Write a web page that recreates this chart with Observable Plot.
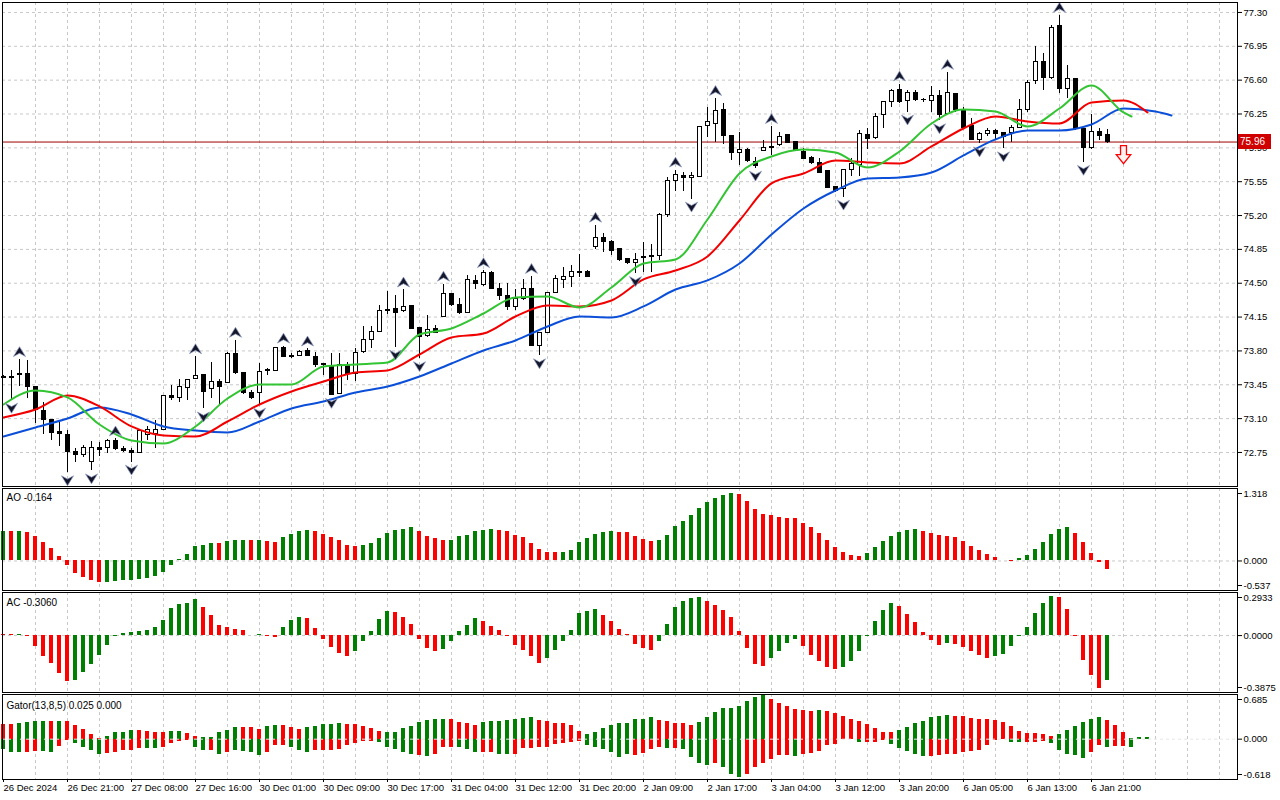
<!DOCTYPE html>
<html>
<head>
<meta charset="utf-8">
<script src="https://cdn.jsdelivr.net/npm/d3@7"></script>
<script src="https://cdn.jsdelivr.net/npm/@observablehq/plot@0.6"></script>
<style>
html,body{margin:0;padding:0;background:#fff;}
#wrap{position:relative;width:1280px;height:800px;overflow:hidden;background:#fff;}
#wrap svg{position:absolute;left:0;}
#price{position:absolute;background:#d00000;color:#fff;font:10px "Liberation Sans",Arial,sans-serif;line-height:15px;height:15px;width:30px;padding:0 1px 0 2px;}
</style>
</head>
<body>
<div id="wrap"></div>
<script>
// ---------- price data (hourly candles, bar index 0..138) ----------
const open = [73.53,73.52,73.55,73.56,73.43,73.18,73.09,72.96,72.93,72.75,
72.72,72.65,72.80,72.80,72.87,72.79,72.76,72.74,72.93,72.94,
72.98,73.33,73.31,73.42,73.51,73.55,73.41,73.48,73.47,73.77,
73.57,73.37,73.36,73.59,73.59,73.83,73.75,73.75,73.80,73.74,
73.66,73.63,73.35,73.65,73.56,73.79,73.91,74.00,74.21,74.23,
74.21,74.26,74.04,73.95,74.03,74.15,74.39,74.28,74.19,74.52,
74.48,74.61,74.44,74.37,74.25,74.34,74.44,73.85,73.99,74.40,
74.53,74.56,74.62,74.62,74.87,74.97,74.93,74.85,74.75,74.71,
74.77,74.77,74.78,75.21,75.56,75.61,75.59,75.60,76.13,76.15,
76.29,76.02,75.85,75.88,75.75,75.87,75.91,75.93,76.03,75.96,
75.86,75.79,75.74,75.66,75.49,75.47,75.67,75.72,76.03,76.00,
76.24,76.37,76.50,76.38,76.47,76.39,76.38,76.44,76.25,76.46,
76.29,76.13,75.98,76.04,76.07,76.05,76.05,76.11,76.29,76.59,
76.79,76.62,77.16,76.51,76.61,76.10,75.90,76.06,76.03];
const high = [73.55,73.60,73.71,73.70,73.43,73.27,73.09,73.08,72.98,72.79,
72.82,72.86,72.85,72.88,72.89,72.81,72.79,72.97,73.02,73.08,
73.34,73.44,73.50,73.50,73.74,73.55,73.68,73.50,73.78,73.91,
73.57,73.39,73.67,73.62,73.84,73.85,73.77,73.80,73.82,73.78,
73.67,73.77,73.77,73.68,73.82,74.05,74.05,74.27,74.41,74.37,
74.43,74.26,74.04,74.17,74.06,74.49,74.39,74.34,74.58,74.58,
74.63,74.62,74.50,74.50,74.44,74.54,74.57,73.99,74.40,74.58,
74.66,74.68,74.80,74.63,75.10,75.01,74.94,74.85,74.75,74.81,
74.92,74.90,75.22,75.59,75.67,75.65,75.65,76.12,76.32,76.41,
76.36,76.02,76.06,75.89,75.80,75.98,76.12,76.06,76.04,75.96,
75.89,75.81,75.79,75.66,75.49,75.67,75.79,76.08,76.10,76.25,
76.37,76.50,76.56,76.49,76.49,76.41,76.53,76.49,76.68,76.46,
76.32,76.20,76.06,76.10,76.09,76.05,76.13,76.40,76.60,76.95,
76.88,77.17,77.27,76.75,76.61,76.10,76.24,76.10,76.09];
const low = [73.51,73.29,73.43,73.31,73.05,72.94,72.87,72.81,72.54,72.65,
72.70,72.56,72.71,72.74,72.77,72.75,72.65,72.74,72.87,72.79,
72.98,73.29,73.27,73.29,73.50,73.20,73.31,73.25,73.46,73.56,
73.35,73.30,73.24,73.55,73.59,73.73,73.72,73.74,73.74,73.63,
73.55,73.34,73.35,73.49,73.48,73.77,73.82,74.00,74.18,73.84,
74.20,74.02,73.72,73.94,73.98,74.15,74.26,74.18,74.19,74.44,
74.47,74.43,74.32,74.22,74.22,74.32,73.85,73.75,73.99,74.39,
74.45,74.46,74.56,74.56,74.85,74.82,74.79,74.72,74.69,74.60,
74.61,74.61,74.74,75.18,75.45,75.45,75.37,75.60,76.01,75.96,
75.93,75.77,75.72,75.75,75.69,75.87,75.82,75.91,75.94,75.87,
75.78,75.73,75.63,75.48,75.44,75.39,75.60,75.60,75.88,75.99,
76.10,76.32,76.36,76.27,76.38,76.37,76.27,76.18,76.24,76.27,
76.11,75.98,75.94,76.02,75.98,75.89,75.96,76.10,76.27,76.56,
76.49,76.61,76.46,76.41,76.08,75.75,75.88,75.98,75.94];
const close = [73.52,73.53,73.56,73.43,73.19,73.09,72.95,72.94,72.75,72.72,
72.80,72.80,72.78,72.87,72.79,72.77,72.74,72.97,72.98,72.98,
73.33,73.31,73.43,73.50,73.54,73.38,73.48,73.43,73.77,73.57,
73.36,73.31,73.58,73.60,73.83,73.74,73.74,73.79,73.75,73.65,
73.65,73.34,73.65,73.56,73.78,73.91,74.00,74.21,74.22,74.19,
74.25,74.03,73.94,74.02,73.99,74.39,74.28,74.19,74.53,74.49,
74.61,74.44,74.37,74.25,74.34,74.44,73.85,73.99,74.40,74.54,
74.56,74.62,74.61,74.56,74.97,74.93,74.83,74.74,74.71,74.74,
74.76,74.78,75.21,75.56,75.62,75.59,75.61,76.12,76.17,76.28,
76.02,75.85,75.88,75.76,75.71,75.90,75.90,76.01,75.95,75.87,
75.78,75.74,75.64,75.48,75.45,75.67,75.73,76.04,75.99,76.22,
76.37,76.49,76.37,76.47,76.39,76.392,76.44,76.24,76.47,76.29,
76.11,75.98,76.04,76.07,76.04,76.01,76.11,76.29,76.57,76.79,
76.62,77.14,76.51,76.61,76.09,75.90,76.06,76.02,75.96];

// fractals (bar indices)
const fractalUp = [2,14,24,29,35,38,50,55,60,66,74,84,89,96,112,118,132];
const fractalDown = [1,8,11,16,25,32,41,49,52,67,79,86,94,105,113,117,122,125,135];
// sell signal arrow
const signals = [{bar:140, price:75.83}];

// Alligator (sampled every 4 bars)
const jawBars = [0,4,8,12,16,20,24,28,32,36,40,44,48,52,56,60,64,68,72,76,80,84,88,92,96,100,104,108,112,116,120,124,128,132,136,140,144,146];
const jaw = [72.915,73.008,73.101,73.215,73.143,73.019,72.977,72.957,73.070,73.205,73.277,73.370,73.432,73.536,73.670,73.805,73.908,74.053,74.156,74.146,74.260,74.435,74.529,74.704,75.004,75.273,75.459,75.583,75.594,75.645,75.821,75.987,76.080,76.080,76.142,76.307,76.276,76.235];
const teethBars = [0,4,8,12,16,20,24,28,32,36,40,44,48,52,56,60,64,68,72,76,80,84,88,92,96,100,104,108,112,116,120,124,128,132,136,140,143];
const teeth = [73.112,73.194,73.339,73.226,73.019,72.926,72.915,73.070,73.246,73.381,73.484,73.577,73.598,73.763,73.939,73.980,74.156,74.270,74.260,74.322,74.539,74.632,74.777,75.149,75.532,75.635,75.769,75.749,75.738,75.914,76.100,76.224,76.173,76.152,76.369,76.390,76.266];
const lipsBars = [0,4,8,12,16,20,24,28,32,36,40,44,48,52,56,60,64,68,72,76,80,84,88,92,96,100,104,108,112,116,120,124,128,132,136,140,141];
const lips = [73.246,73.391,73.319,73.039,72.874,72.843,73.019,73.308,73.453,73.453,73.639,73.660,73.680,73.970,74.032,74.187,74.353,74.363,74.249,74.456,74.704,74.746,75.159,75.635,75.811,75.883,75.852,75.697,75.862,76.152,76.297,76.276,76.121,76.307,76.545,76.266,76.224];

// Awesome Oscillator
const aoValues = [0.54,0.53,0.535,0.51,0.44,0.33,0.23,0.08,-0.09,-0.22,
-0.30,-0.36,-0.40,-0.395,-0.37,-0.36,-0.35,-0.33,-0.32,-0.29,
-0.21,-0.08,0.02,0.12,0.26,0.29,0.32,0.315,0.35,0.365,
0.37,0.365,0.37,0.35,0.33,0.42,0.48,0.53,0.56,0.545,
0.48,0.42,0.37,0.29,0.26,0.275,0.32,0.40,0.50,0.56,
0.58,0.60,0.53,0.45,0.40,0.37,0.375,0.44,0.46,0.54,
0.56,0.565,0.56,0.545,0.46,0.42,0.32,0.21,0.15,0.148,
0.152,0.19,0.34,0.40,0.48,0.51,0.54,0.52,0.515,0.45,
0.385,0.35,0.365,0.46,0.62,0.72,0.83,0.96,1.06,1.13,
1.19,1.23,1.20,1.08,0.94,0.85,0.83,0.79,0.78,0.775,
0.69,0.60,0.50,0.37,0.25,0.15,0.10,0.08,0.13,0.24,
0.35,0.45,0.51,0.56,0.565,0.545,0.50,0.46,0.45,0.42,
0.35,0.27,0.19,0.115,0.065,0.006,-0.006,0.04,0.10,0.21,
0.33,0.48,0.58,0.60,0.50,0.33,0.13,-0.03,-0.164];
const aoColors = "grgrrrrrrr"+"rrrggggggg"+"gggggggrgg"+"grgrrggggr"+"rrrrrggggg"+"ggrrrrgggg"+"ggrrrrrrrr"+"gggggggrrr"+"rrgggggggg"+"ggrrrrrrrr"+"rrrrrrrrgg"+"gggggrrrrr"+"rrrrrrrggg"+"ggggrrrrr";

// Accelerator Oscillator
const acValues = [0.004,0.006,0.010,-0.003,-0.076,-0.144,-0.189,-0.260,-0.311,-0.303,
-0.253,-0.197,-0.136,-0.068,-0.008,0.016,0.024,0.030,0.033,0.053,
0.104,0.182,0.213,0.220,0.243,0.190,0.137,0.066,0.053,0.040,
0.033,0.002,0.005,-0.005,-0.013,0.053,0.101,0.122,0.114,0.046,
-0.025,-0.081,-0.119,-0.144,-0.111,-0.043,0.030,0.109,0.162,0.154,
0.122,0.076,-0.030,-0.089,-0.111,-0.094,-0.043,0.025,0.066,0.114,
0.094,0.063,0.033,-0.005,-0.066,-0.099,-0.144,-0.187,-0.157,-0.099,
-0.043,0.033,0.152,0.165,0.177,0.139,0.094,0.040,0.008,-0.063,
-0.089,-0.099,-0.043,0.076,0.190,0.235,0.253,0.261,0.235,0.205,
0.174,0.121,0.030,-0.088,-0.194,-0.210,-0.157,-0.106,-0.056,-0.028,
-0.073,-0.134,-0.174,-0.217,-0.232,-0.217,-0.179,-0.111,-0.005,0.098,
0.174,0.220,0.197,0.144,0.091,0.023,-0.035,-0.066,-0.051,-0.058,
-0.081,-0.111,-0.134,-0.157,-0.141,-0.126,-0.073,-0.003,0.058,0.152,
0.220,0.268,0.262,0.177,-0.005,-0.170,-0.270,-0.360,-0.306];
const acColors = "rrgrrrrrrg"+"gggggggggg"+"gggggrrrrr"+"rrgrrgggrr"+"rrrrgggggr"+"rrrrrggggg"+"rrrrrrrrgg"+"gggggrrrrr"+"rrggggggrr"+"rrrrrrgggg"+"rrrrrggggg"+"ggrrrrrrgr"+"rrrrgggggg"+"ggrrrrrrg";

// Gator Oscillator
const gatorUp = [0.223,0.223,0.241,0.253,0.271,0.271,0.271,0.271,0.271,0.211,
0.145,0.072,0.012,0.036,0.096,0.102,0.127,0.127,0.120,0.102,
0.102,0.114,0.114,0.084,0.042,0.024,0.030,0.102,0.127,0.175,
0.173,0.172,0.150,0.193,0.211,0.209,0.175,0.145,0.175,0.199,
0.223,0.224,0.235,0.223,0.222,0.193,0.163,0.120,0.102,0.103,
0.163,0.193,0.259,0.283,0.295,0.307,0.306,0.259,0.241,0.217,
0.253,0.265,0.271,0.283,0.295,0.319,0.325,0.283,0.265,0.241,
0.235,0.211,0.114,0.072,0.102,0.163,0.205,0.235,0.247,0.295,
0.301,0.325,0.283,0.271,0.235,0.233,0.211,0.253,0.325,0.416,
0.464,0.466,0.506,0.572,0.645,0.663,0.614,0.554,0.494,0.452,
0.434,0.432,0.435,0.430,0.392,0.355,0.301,0.271,0.223,0.163,
0.102,0.100,0.139,0.175,0.235,0.277,0.325,0.355,0.357,0.354,
0.343,0.313,0.307,0.301,0.283,0.253,0.193,0.120,0.090,0.089,
0.072,0.042,0.072,0.127,0.199,0.253,0.307,0.325,0.283,0.211,
0.096,0.018,0.020,0.025];
const gatorUpColors = "rrggggrgrr"+"rrrggggrrr"+"rggrrggggg"+"rrrggrrrgg"+"gggrrrrrgg"+"ggggggrrrr"+"gggggggrrr"+"rrrggggggg"+"ggrrrrrggg"+"ggggggrrrr"+"rrgrrrrrrr"+"rrgggggggr"+"rrrrrrrrrr"+"rrggggggrr"+"rggg";
const gatorDown = [-0.157,-0.199,-0.201,-0.198,-0.187,-0.190,-0.199,-0.108,-0.018,-0.066,
-0.120,-0.169,-0.229,-0.217,-0.199,-0.181,-0.169,-0.139,-0.140,-0.145,
-0.120,-0.060,-0.030,-0.018,-0.127,-0.181,-0.169,-0.229,-0.199,-0.181,
-0.187,-0.199,-0.247,-0.199,-0.096,-0.096,-0.127,-0.169,-0.199,-0.181,
-0.181,-0.169,-0.151,-0.090,-0.066,-0.036,-0.030,-0.048,-0.120,-0.151,
-0.211,-0.229,-0.247,-0.259,-0.229,-0.120,-0.120,-0.127,-0.157,-0.211,
-0.199,-0.199,-0.241,-0.241,-0.229,-0.139,-0.139,-0.120,-0.120,-0.078,
-0.060,-0.048,-0.030,-0.096,-0.120,-0.151,-0.199,-0.277,-0.229,-0.247,
-0.217,-0.157,-0.120,-0.139,-0.137,-0.157,-0.277,-0.380,-0.410,-0.367,
-0.428,-0.548,-0.590,-0.548,-0.428,-0.380,-0.319,-0.247,-0.245,-0.259,
-0.241,-0.217,-0.187,-0.090,-0.078,-0.006,-0.004,-0.048,-0.046,-0.044,
-0.018,-0.078,-0.139,-0.187,-0.241,-0.271,-0.259,-0.247,-0.241,-0.229,
-0.199,-0.187,-0.169,-0.096,-0.018,-0.006,-0.048,-0.050,-0.048,-0.046,
-0.030,-0.066,-0.169,-0.229,-0.247,-0.289,-0.211,-0.090,-0.120,-0.119,
-0.118,-0.120];
const gatorDownColors = "gggrrggrrg"+"gggrrrrrgg"+"rrrrggrgrg"+"gggrrrgggr"+"rrrrrrrggg"+"ggrgrrrggg"+"rrggrrrrrr"+"rrrggggggr"+"rrrgrggggr"+"gggrrrrrrg"+"rrrrrrrgrr"+"rgggggrrrr"+"rrrrrrggrr"+"rgggggrrgr"+"rg";

// axes
const priceTicks = [72.75,73.10,73.45,73.80,74.15,74.50,74.85,75.20,75.55,75.90,76.25,76.60,76.95,77.30];
const timeBars = [0,8,16,24,32,40,48,56,64,72,80,88,96,104,112,120,128,136];
const timeLabels = ["26 Dec 2024","26 Dec 21:00","27 Dec 08:00","27 Dec 16:00","30 Dec 01:00","30 Dec 09:00","30 Dec 17:00","31 Dec 04:00","31 Dec 12:00","31 Dec 20:00","2 Jan 09:00","2 Jan 17:00","3 Jan 04:00","3 Jan 12:00","3 Jan 20:00","6 Jan 05:00","6 Jan 13:00","6 Jan 21:00"];
const aoLabel = "AO -0.164";
const acLabel = "AC -0.3060";
const gatorLabel = "Gator(13,8,5) 0.025 0.000";

// ---------- drawing ----------
const GREEN = "#008000", RED = "#ff0000";
const toColors = s => Array.from(s, ch => ch === "g" ? GREEN : RED);
const FONT = '"Liberation Sans", Arial, sans-serif';
const X_DOMAIN = [-0.125, 154.25];
const gridBars = d3.range(4, 153, 4);
const grid = {stroke: "#c8c8c8", strokeDasharray: "3,3", strokeWidth: 1};
const HALF = 0.25;

function base(height, mt, mb, ydomain) {
  return {
    width: 1280, height, marginLeft: 2, marginRight: 43, marginTop: mt, marginBottom: mb,
    x: {domain: X_DOMAIN, axis: null, label: null},
    y: {domain: ydomain, axis: null, label: null},
    color: {type: "identity"},
    style: {fontFamily: FONT, fontSize: "9.5px", color: "black", background: "transparent", overflow: "visible"}
  };
}

const upArrow = {draw(ctx, size) { const r = Math.sqrt(size / Math.PI); const s = r / 5;
  ctx.moveTo(0, -4.5 * s); ctx.lineTo(5.5 * s, 4.5 * s); ctx.lineTo(0, 1.5 * s); ctx.lineTo(-5.5 * s, 4.5 * s); ctx.closePath(); }};
const downArrow = {draw(ctx, size) { const r = Math.sqrt(size / Math.PI); const s = r / 5;
  ctx.moveTo(0, 4.5 * s); ctx.lineTo(5.5 * s, -4.5 * s); ctx.lineTo(0, -1.5 * s); ctx.lineTo(-5.5 * s, -4.5 * s); ctx.closePath(); }};
const sellArrow = {draw(ctx, size) { const r = Math.sqrt(size / Math.PI);
  ctx.moveTo(-0.33 * r, -r); ctx.lineTo(0.33 * r, -r); ctx.lineTo(0.33 * r, 0); ctx.lineTo(0.8 * r, 0);
  ctx.lineTo(0, r); ctx.lineTo(-0.8 * r, 0); ctx.lineTo(-0.33 * r, 0); ctx.closePath(); }};

const candles = open.map((o, i) => ({i, o, h: high[i], l: low[i], c: close[i]}));
const lastClose = close[close.length - 1];
const pts = (bars, vals) => bars.map((b, k) => ({b, v: vals[k]}));
const yAxis = (ticks, fmt, dy) => Plot.axisY(ticks, {anchor: "right", tickSize: 4, tickPadding: 2, tickFormat: fmt, label: null, dy});

const wrap = document.getElementById("wrap");

const mainPlot = Plot.plot({
  ...base(488, 2, 2, [72.398, 77.403]),
  marks: [
    Plot.ruleY(priceTicks, grid),
    Plot.ruleX(gridBars, grid),
    Plot.ruleY([lastClose], {stroke: "#a00000", strokeWidth: 1}),
    Plot.ruleX(candles, {x: "i", y1: "l", y2: "h", stroke: "#000", shapeRendering: "crispEdges"}),
    Plot.rect(candles, {x1: d => d.i - HALF, x2: d => d.i + HALF, y1: "o", y2: "c",
      fill: d => d.c >= d.o ? "#ffffff" : "#000000", stroke: "#000", shapeRendering: "crispEdges"}),
    Plot.line(pts(jawBars, jaw), {x: "b", y: "v", stroke: "#0b4fd8", strokeWidth: 2, curve: "monotone-x"}),
    Plot.line(pts(teethBars, teeth), {x: "b", y: "v", stroke: "#f20000", strokeWidth: 2, curve: "monotone-x"}),
    Plot.line(pts(lipsBars, lips), {x: "b", y: "v", stroke: "#33c433", strokeWidth: 2, curve: "monotone-x"}),
    Plot.dot(fractalUp, {x: d => d, y: d => high[d], dy: -8, r: 5.5, symbol: upArrow, fill: "#16162a", stroke: "#8c9cc6", strokeWidth: 0.7}),
    Plot.dot(fractalDown, {x: d => d, y: d => low[d], dy: 8, r: 5.5, symbol: downArrow, fill: "#16162a", stroke: "#8c9cc6", strokeWidth: 0.7}),
    Plot.dot(signals, {x: "bar", y: "price", r: 9, symbol: sellArrow, fill: "#fff2f2", stroke: "#ff0000", strokeWidth: 1.3}),
    Plot.frame({stroke: "#000"}),
    yAxis(priceTicks, d => d.toFixed(2), 0)
  ]
});
mainPlot.style.top = "0px";
wrap.appendChild(mainPlot);

function indicator({top, height, mb, domain, series, label, labelDy, ticks, fmt, zeroOnTop, xAxis}) {
  const marks = [Plot.ruleX(gridBars, grid)];
  if (!zeroOnTop) marks.push(Plot.ruleY([0], grid));
  for (const s of series) {
    const cols = toColors(s.colors);
    const data = s.values.map((v, i) => ({i, v, c: cols[i]}));
    marks.push(Plot.rect(data, {x1: d => d.i - HALF, x2: d => d.i + HALF, y1: 0, y2: "v", fill: "c", shapeRendering: "crispEdges"}));
  }
  if (zeroOnTop) marks.push(Plot.ruleY([0], {stroke: "#e6e6e6", strokeDasharray: "3,3"}));
  marks.push(Plot.frame({stroke: "#000"}));
  marks.push(yAxis([ticks[0]], fmt, 5));
  marks.push(yAxis([0], fmt, 0));
  marks.push(yAxis([ticks[1]], fmt, -5));
  marks.push(Plot.text([label], {frameAnchor: "top-left", dx: 4, dy: labelDy, lineAnchor: "top", textAnchor: "start", fontSize: 10}));
  if (xAxis) marks.push(xAxis);
  const p = Plot.plot({...base(height, 2, mb, domain), marks});
  p.style.top = top + "px";
  wrap.appendChild(p);
  return p;
}

indicator({top: 486, height: 106, mb: 2, domain: [-0.537, 1.318],
  series: [{values: aoValues, colors: aoColors}], label: aoLabel, labelDy: 5,
  ticks: [1.318, -0.537], fmt: d => d.toFixed(3)});

indicator({top: 590, height: 104, mb: 2, domain: [-0.3875, 0.2933],
  series: [{values: acValues, colors: acColors}], label: acLabel, labelDy: 6,
  ticks: [0.2933, -0.3875], fmt: d => d.toFixed(4)});

indicator({top: 692, height: 108, mb: 21, domain: [-0.618, 0.685],
  series: [{values: gatorUp, colors: gatorUpColors}, {values: gatorDown, colors: gatorDownColors}],
  label: gatorLabel, labelDy: 7, ticks: [0.685, -0.618], fmt: d => d.toFixed(3), zeroOnTop: true,
  xAxis: Plot.axisX(timeBars, {anchor: "bottom", tickSize: 3, tickPadding: 2, textAnchor: "start", label: null,
    tickFormat: b => timeLabels[timeBars.indexOf(b)], fontSize: 9.5})});

// current price tag
const yPx = mainPlot.scale("y").apply(lastClose);
const tag = document.createElement("div");
tag.id = "price";
tag.textContent = lastClose.toFixed(2);
tag.style.left = "1238px";
tag.style.top = (yPx - 7.5) + "px";
wrap.appendChild(tag);
</script>
</body>
</html>
